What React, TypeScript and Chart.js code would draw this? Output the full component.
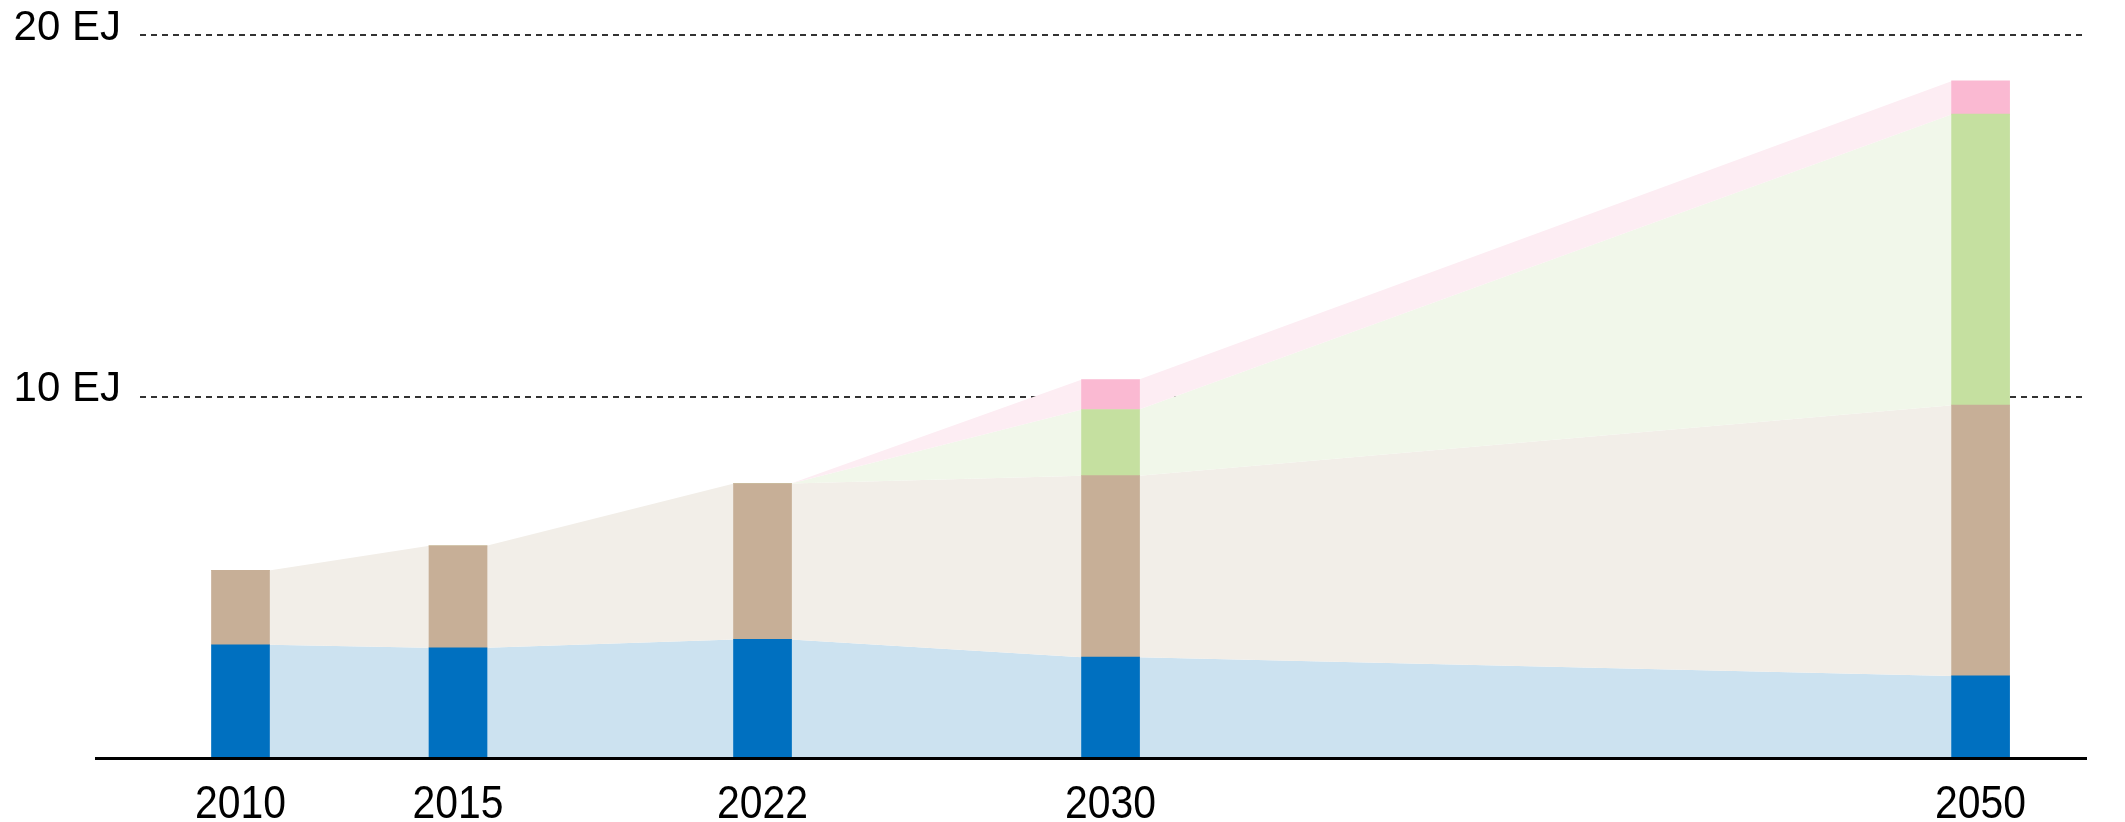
import React, { useEffect, useRef } from 'react';
import { Chart, registerables } from 'chart.js';

Chart.register(...registerables);

// Data (EJ)
const years = [2010, 2015, 2022, 2030, 2050];
const blueSeries = [3.13, 3.05, 3.28, 2.79, 2.27];
const tanSeries = [2.06, 2.82, 4.31, 5.02, 7.49];
const greenSeries = [0, 0, 0, 1.83, 8.05];
const pinkSeries = [0, 0, 0, 0.83, 0.92];
const yTickValues = [0, 10, 20];
const yUnit = 'EJ';

const barColors = ['#0070C0', '#C7AF97', '#C5E0A0', '#FAB9D2'];
const areaColors = ['#CCE2F0', '#F2EEE8', '#F1F7EA', '#FDEDF3'];
const FONT = '"Liberation Sans", Arial, sans-serif';

const areaPlugin = {
  id: 'bridgeAreas',
  beforeDatasetsDraw(chart: any) {
    const ctx = chart.ctx;
    ctx.save();
    chart.data.datasets.forEach((_ds: any, k: number) => {
      const meta = chart.getDatasetMeta(k);
      const els = meta.data;
      ctx.fillStyle = areaColors[k];
      for (let i = 0; i < els.length - 1; i++) {
        const a = els[i];
        const b = els[i + 1];
        const ax = a.x + a.width / 2;
        const bx = b.x - b.width / 2;
        ctx.beginPath();
        ctx.moveTo(ax - 0.5, a.y);
        ctx.lineTo(bx + 0.5, b.y);
        ctx.lineTo(bx + 0.5, b.base);
        ctx.lineTo(ax - 0.5, a.base);
        ctx.closePath();
        ctx.fill();
      }
    });
    ctx.restore();
  },
};

const baselinePlugin = {
  id: 'baseline',
  afterDatasetsDraw(chart: any) {
    const ctx = chart.ctx;
    const y = chart.scales.y.getPixelForValue(0);
    const { left, right } = chart.chartArea;
    ctx.save();
    ctx.strokeStyle = '#000';
    ctx.lineWidth = 3;
    ctx.beginPath();
    ctx.moveTo(left - 45, y + 0.5);
    ctx.lineTo(right + 2, y + 0.5);
    ctx.stroke();
    ctx.restore();
  },
};

// Year labels: drawn at the x scale's tick positions in a slightly condensed face
const yearLabelPlugin = {
  id: 'yearLabels',
  afterDraw(chart: any) {
    const ctx = chart.ctx;
    const xs = chart.scales.x;
    const base = chart.scales.y.getPixelForValue(0);
    ctx.save();
    ctx.font = `47px ${FONT}`;
    ctx.textAlign = 'center';
    ctx.textBaseline = 'alphabetic';
    ctx.fillStyle = '#000';
    xs.ticks.forEach((t: any) => {
      const x = xs.getPixelForValue(t.value);
      ctx.save();
      ctx.translate(x, base + 60);
      ctx.scale(0.87, 1);
      ctx.fillText(String(t.value), 0, 0);
      ctx.restore();
    });
    ctx.restore();
  },
};

export default function App() {
  const canvasRef = useRef<HTMLCanvasElement | null>(null);

  useEffect(() => {
    if (!canvasRef.current) return;
    const series = [blueSeries, tanSeries, greenSeries, pinkSeries];
    const chart = new Chart(canvasRef.current, {
      type: 'bar',
      data: {
        datasets: series.map((arr, k) => ({
          data: years.map((x, i) => ({ x, y: arr[i] })),
          backgroundColor: barColors[k],
          borderWidth: 0,
          barThickness: 58,
        })),
      },
      options: {
        animation: false,
        responsive: false,
        devicePixelRatio: 1,
        layout: { padding: { left: 10, right: 40, top: 35, bottom: 0 } },
        plugins: { legend: { display: false }, tooltip: { enabled: false }, title: { display: false } },
        scales: {
          x: {
            type: 'linear',
            offset: false,
            min: 2007.69,
            max: 2052.4,
            stacked: true,
            grid: { display: false, drawTicks: false, offset: false },
            border: { display: false },
            afterBuildTicks: (s: any) => {
              s.ticks = years.map((v) => ({ value: v }));
            },
            afterFit: (s: any) => {
              s.height = 64;
            },
            ticks: {
              display: false,
              autoSkip: false,
              maxRotation: 0,
              callback: (v: any) => String(v),
            },
          },
          y: {
            type: 'linear',
            min: 0,
            max: 20,
            stacked: true,
            afterBuildTicks: (s: any) => {
              s.ticks = yTickValues.map((v) => ({ value: v }));
            },
            afterFit: (s: any) => {
              s.width = 130;
              s.paddingTop = 0;
              s.paddingBottom = 0;
            },
            grid: {
              drawTicks: false,
              lineWidth: 2,
              color: (c: any) => (c.tick && c.tick.value === 0 ? 'rgba(0,0,0,0)' : '#333'),
            },
            border: { display: false, dash: [6, 5] },
            ticks: {
              padding: 19,
              labelOffset: -7,
              color: '#000',
              font: { family: FONT, size: 42 },
              callback: (v: any) => (v === 0 ? '' : `${v} ${yUnit}`),
            },
          },
        },
      },
      plugins: [areaPlugin, baselinePlugin, yearLabelPlugin],
    });
    return () => chart.destroy();
  }, []);

  return (
    <div style={{ position: 'absolute', left: 0, top: 0, width: 2125, height: 822, background: '#fff' }}>
      <canvas ref={canvasRef} width={2125} height={822} style={{ display: 'block' }} />
    </div>
  );
}
